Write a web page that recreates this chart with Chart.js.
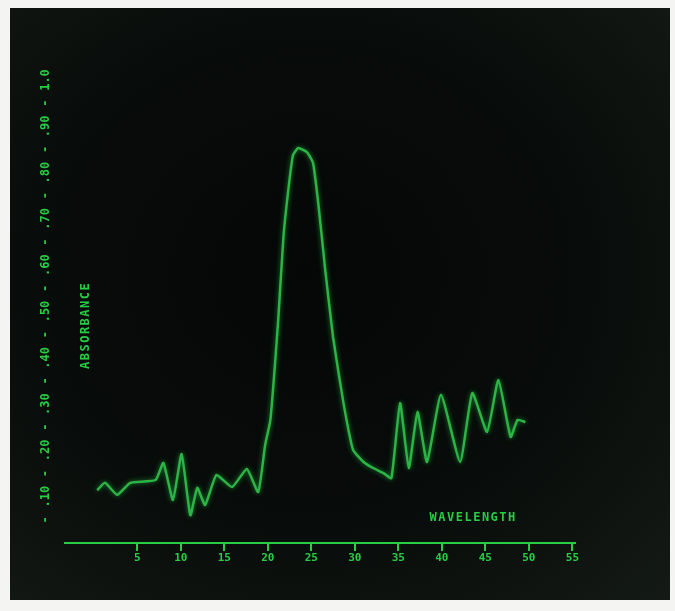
<!DOCTYPE html>
<html>
<head>
<meta charset="utf-8">
<script src="https://cdn.jsdelivr.net/npm/chart.js@4/dist/chart.umd.min.js"></script>
<style>
  html, body { margin: 0; padding: 0; background: #f4f4f2; }
  #screen {
    position: absolute; left: 10px; top: 8px; width: 660px; height: 592px;
    background: radial-gradient(ellipse at 45% 45%, #040706 0%, #080c0a 55%, #141a16 100%);
  }
</style>
</head>
<body>
<div id="screen"><canvas id="scope"></canvas></div>
<script>
// wavelength / absorbance trace
const wavelength = [0.4, 1.3, 2.7, 4.2, 7.1, 8.0, 9.1, 10.1, 11.1, 11.9, 12.8, 14.1, 15.9, 17.6, 18.9,
  19.7, 20.3, 21.2, 21.8, 22.4, 22.9, 23.5, 24.5, 25.2, 25.8, 26.6, 27.5, 28.7, 29.8, 31.0, 32.1,
  33.3, 34.2, 35.2, 36.2, 37.2, 38.3, 39.9, 42.1, 43.5, 45.2, 46.5, 47.9, 48.7, 49.6];
const absorbance = [0.114, 0.130, 0.104, 0.130, 0.136, 0.173, 0.093, 0.192, 0.060, 0.119, 0.082, 0.147, 0.121, 0.160, 0.110,
  0.212, 0.266, 0.482, 0.661, 0.769, 0.838, 0.853, 0.844, 0.821, 0.734, 0.590, 0.445, 0.302, 0.201, 0.175, 0.162,
  0.151, 0.140, 0.302, 0.162, 0.283, 0.175, 0.320, 0.175, 0.324, 0.240, 0.352, 0.229, 0.266, 0.261];
const xTicks = [5, 10, 15, 20, 25, 30, 35, 40, 45, 50, 55];
const yLabels = ['.10', '.20', '.30', '.40', '.50', '.60', '.70', '.80', '.90', '1.0'];

const green = 'rgb(40, 205, 70)';
const traceGreen = 'rgb(45, 180, 70)';

const points = wavelength.map((w, i) => ({ x: w, y: absorbance[i] }));

// soft phosphor glow on the trace + the two axis captions
const scopePlugin = {
  id: 'scope',
  beforeDatasetDraw(chart) {
    const ctx = chart.ctx;
    ctx.save();
    ctx.shadowColor = 'rgba(40, 220, 80, 0.6)';
    ctx.shadowBlur = 5;
  },
  afterDatasetDraw(chart) {
    chart.ctx.restore();
  },
  afterDraw(chart) {
    const ctx = chart.ctx;
    const x = chart.scales.x, y = chart.scales.y;
    ctx.save();
    ctx.fillStyle = green;
    ctx.font = 'bold 12px "DejaVu Sans Mono"';
    ctx.letterSpacing = '1.5px';
    ctx.textAlign = 'center';
    ctx.textBaseline = 'middle';
    ctx.fillText('WAVELENGTH', x.getPixelForValue(43.6), y.getPixelForValue(0.055));
    ctx.translate(chart.chartArea.left + 21, y.getPixelForValue(0.47));
    ctx.rotate(-Math.PI / 2);
    ctx.fillText('ABSORBANCE', 0, 0);
    ctx.restore();
  }
};

new Chart(document.getElementById('scope'), {
  type: 'line',
  data: {
    datasets: [{
      data: points,
      borderColor: traceGreen,
      borderWidth: 2.5,
      tension: 0.15,
      pointRadius: 0,
      fill: false
    }]
  },
  options: {
    responsive: true,
    maintainAspectRatio: false,
    animation: false,
    layout: { padding: { top: 72, right: 95, bottom: 0, left: 0 } },
    plugins: { legend: { display: false }, tooltip: { enabled: false } },
    scales: {
      x: {
        type: 'linear',
        min: -3.3,
        max: 55.3,
        afterBuildTicks(scale) { scale.ticks = xTicks.map(v => ({ value: v })); },
        afterFit(scale) { scale.height = 57; },
        border: { display: true, color: green, width: 2 },
        grid: { drawOnChartArea: false, drawTicks: true, tickLength: 8, color: green, lineWidth: 2 },
        ticks: {
          color: green,
          padding: 1,
          maxRotation: 0,
          autoSkip: false,
          font: { family: 'DejaVu Sans Mono', size: 11, weight: 'bold' },
          callback: v => String(v)
        }
      },
      y: {
        type: 'linear',
        min: 0,
        max: 1.0,
        afterFit(scale) { scale.width = 55; },
        border: { display: false },
        grid: { display: false },
        ticks: {
          stepSize: 0.05,
          color: green,
          minRotation: 90,
          maxRotation: 90,
          crossAlign: 'center',
          padding: 0,
          autoSkip: false,
          font: { family: 'DejaVu Sans Mono', size: 12, weight: 'bold' },
          callback: v => {
            const k = Math.round(v * 20);
            if (k === 0) return '';
            if (k % 2 === 1) return '-';
            return yLabels[k / 2 - 1];
          }
        }
      }
    }
  },
  plugins: [scopePlugin]
});
</script>
</body>
</html>
